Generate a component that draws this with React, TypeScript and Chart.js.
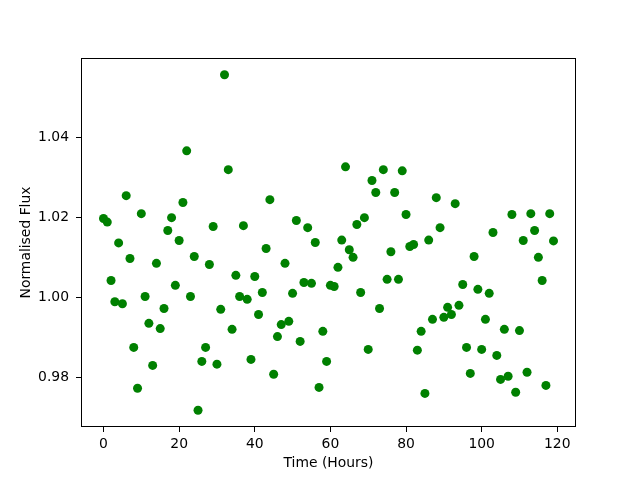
import React, { useEffect, useRef } from "react";
import { Chart, registerables } from "chart.js";

Chart.register(...registerables);

const timeHours: number[] = Array.from({ length: 120 }, (_, i) => i);

const normalisedFlux: number[] = [
  1.0198, 1.0189, 1.0043, 0.9990, 1.0137, 0.9985, 1.0255, 1.0098, 0.9876, 0.9774,
  1.0210, 1.0003, 0.9936, 0.9831, 1.0086, 0.9923, 0.9973, 1.0168, 1.0200, 1.0031,
  1.0143, 1.0238, 1.0367, 1.0003, 1.0103, 0.9719, 0.9841, 0.9876, 1.0083, 1.0178,
  0.9834, 0.9971, 1.0557, 1.0320, 0.9921, 1.0056, 1.0003, 1.0180, 0.9996, 0.9846,
  1.0053, 0.9958, 1.0013, 1.0123, 1.0245, 0.9809, 0.9903, 0.9933, 1.0086, 0.9941,
  1.0011, 1.0193, 0.9891, 1.0038, 1.0175, 1.0036, 1.0138, 0.9776, 0.9916, 0.9841,
  1.0031, 1.0028, 1.0076, 1.0144, 1.0327, 1.0120, 1.0101, 1.0183, 1.0013, 1.0200,
  0.9871, 1.0293, 1.0263, 0.9973, 1.0320, 1.0046, 1.0115, 1.0263, 1.0046, 1.0317,
  1.0208, 1.0128, 1.0133, 0.9869, 0.9916, 0.9761, 1.0144, 0.9946, 1.0250, 1.0175,
  0.9951, 0.9976, 0.9958, 1.0235, 0.9981, 1.0033, 0.9876, 0.9811, 1.0103, 1.0021,
  0.9871, 0.9946, 1.0011, 1.0163, 0.9856, 0.9796, 0.9921, 0.9804, 1.0208, 0.9764,
  0.9918, 1.0143, 0.9814, 1.0210, 1.0168, 1.0101, 1.0043, 0.9781, 1.0210, 1.0142,
];

const xTickValues: number[] = [0, 20, 40, 60, 80, 100, 120];
const yTickValues: number[] = [0.98, 1.0, 1.02, 1.04];
const yTickLabels: string[] = ["0.98", "1.00", "1.02", "1.04"];

const xLabel = "Time (Hours)";
const yLabel = "Normalised Flux";

const FONT = "'DejaVu Sans', sans-serif";
const FONT_SIZE = 13.9;

const framePlugin = {
  id: "frame",
  afterDraw(chart: any) {
    const { ctx, chartArea } = chart;
    ctx.save();
    ctx.strokeStyle = "#000";
    ctx.lineWidth = 1;
    const l = Math.round(chartArea.left) + 0.5;
    const t = Math.round(chartArea.top) + 0.5;
    const r = Math.round(chartArea.right) - 0.5;
    const b = Math.round(chartArea.bottom) - 0.5;
    ctx.strokeRect(l, t, r - l, b - t);
    ctx.restore();
  },
};

export default function App() {
  const ref = useRef<HTMLCanvasElement | null>(null);

  useEffect(() => {
    if (!ref.current) return;
    const xMin = Math.min(...timeHours);
    const xMax = Math.max(...timeHours);
    const xPad = (xMax - xMin) * 0.05;
    const yMin = Math.min(...normalisedFlux);
    const yMax = Math.max(...normalisedFlux);
    const yPad = (yMax - yMin) * 0.05;

    const chart = new Chart(ref.current, {
      type: "scatter",
      data: {
        datasets: [
          {
            data: timeHours.map((t, i) => ({ x: t, y: normalisedFlux[i] })),
            backgroundColor: "#008000",
            borderColor: "#008000",
            borderWidth: 0,
            pointRadius: 4.5,
            pointHoverRadius: 4.5,
          },
        ],
      },
      options: {
        animation: false,
        responsive: false,
        devicePixelRatio: 1,
        events: [],
        layout: { padding: { left: 0, right: 64, top: 58, bottom: 0 } },
        plugins: {
          legend: { display: false },
          tooltip: { enabled: false },
          title: { display: false },
        },
        scales: {
          x: {
            type: "linear",
            min: xMin - xPad,
            max: xMax + xPad,
            afterBuildTicks: (scale: any) => {
              scale.ticks = xTickValues.map((v) => ({ value: v }));
            },
            afterFit: (scale: any) => {
              scale.height = 53;
            },
            grid: {
              drawOnChartArea: false,
              drawTicks: true,
              tickLength: 5,
              tickColor: "#000",
              tickWidth: 1,
            },
            border: { display: false },
            ticks: {
              color: "#000",
              padding: 4,
              maxRotation: 0,
              font: { family: FONT, size: FONT_SIZE },
              callback: (v: any) => String(v),
            },
            title: {
              display: true,
              text: xLabel,
              color: "#000",
              font: { family: FONT, size: FONT_SIZE },
              padding: { top: 0, bottom: 8.7 },
            },
          },
          y: {
            type: "linear",
            min: yMin - yPad,
            max: yMax + yPad,
            afterBuildTicks: (scale: any) => {
              scale.ticks = yTickValues.map((v) => ({ value: v }));
            },
            afterFit: (scale: any) => {
              scale.width = 81;
            },
            grid: {
              drawOnChartArea: false,
              drawTicks: true,
              tickLength: 5,
              tickColor: "#000",
              tickWidth: 1,
            },
            border: { display: false },
            ticks: {
              color: "#000",
              padding: 7,
              font: { family: FONT, size: FONT_SIZE },
              callback: (v: any) => {
                const idx = yTickValues.findIndex((t) => Math.abs(t - Number(v)) < 1e-9);
                return idx >= 0 ? yTickLabels[idx] : "";
              },
            },
            title: {
              display: true,
              text: yLabel,
              color: "#000",
              font: { family: FONT, size: FONT_SIZE },
              padding: { top: 18, bottom: 0 },
            },
          },
        },
      },
      plugins: [framePlugin],
    });
    return () => chart.destroy();
  }, []);

  return (
    <div style={{ position: "fixed", left: 0, top: 0, width: 640, height: 480, background: "#fff" }}>
      <canvas ref={ref} width={640} height={480} />
    </div>
  );
}
